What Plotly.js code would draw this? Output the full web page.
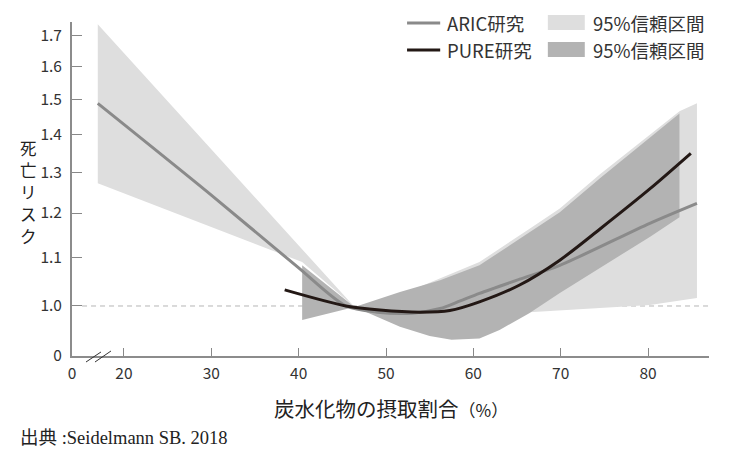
<!DOCTYPE html>
<html>
<head>
<meta charset="utf-8">
<script src="https://cdn.plot.ly/plotly-3.0.1.min.js"></script>
<style>
  html, body { margin: 0; padding: 0; background: #fff; }
  #plot { width: 744px; height: 459px; }
</style>
</head>
<body>
<div id="plot"></div>
<script>
// ARIC study (gray line) and its 95% CI
const aricX = [17.0, 30.0, 39.9, 45.4, 49.0, 53.0, 56.2, 58.5, 60.7, 65.3, 69.9, 80.2, 85.6];
const aricY = [1.488, 1.243, 1.079, 1.0, 0.988, 0.986, 0.995, 1.010, 1.025, 1.054, 1.083, 1.176, 1.223];

const aricUpX = [17.0, 46.4, 51.6, 60.7, 66.4, 69.9, 74.5, 79.0, 83.6, 85.6];
const aricUpY = [1.738, 0.998, 1.022, 1.090, 1.163, 1.211, 1.295, 1.376, 1.465, 1.488];
const aricLoX = [17.0, 40.4, 46.4, 57.3, 66.4, 80.2, 85.6];
const aricLoY = [1.272, 1.090, 0.998, 0.984, 0.988, 1.002, 1.016];

// PURE study (black line) and its 95% CI
const pureX = [38.4, 45.4, 49.3, 53.9, 57.3, 60.7, 65.3, 69.9, 74.5, 80.2, 84.9];
const pureY = [1.032, 1.0, 0.992, 0.988, 0.991, 1.008, 1.042, 1.094, 1.163, 1.258, 1.349];

const pureUpX = [40.4, 46.4, 51.6, 56.2, 60.7, 66.4, 69.9, 74.5, 79.0, 83.6];
const pureUpY = [1.083, 0.998, 1.028, 1.052, 1.083, 1.156, 1.202, 1.285, 1.368, 1.459];
const pureLoX = [40.4, 46.4, 51.6, 55.0, 57.5, 60.7, 63.0, 66.4, 69.9, 80.2, 83.6];
const pureLoY = [0.973, 0.998, 0.960, 0.943, 0.936, 0.938, 0.954, 0.986, 1.026, 1.145, 1.190];

// reference line at risk 1.0
const refX = [15.2, 86.98];
const refY = [1.0, 1.0];

// axes (broken axis: "0" labels sit at the axis ends)
const xTickVals = [14.06, 20, 30, 40, 50, 60, 70, 80];
const xTickText = ['0', '20', '30', '40', '50', '60', '70', '80'];
const yTickVals = [0.9068, 1.0, 1.1, 1.2, 1.3, 1.4, 1.5, 1.6, 1.7];
const yTickText = ['0', '1.0', '1.1', '1.2', '1.3', '1.4', '1.5', '1.6', '1.7'];

// vertical y title, one character per row
const yTitleChars = ['死', '亡', 'リ', 'ス', 'ク'];

const band = (ux, uy, lx, ly) => ({
  x: ux.concat(lx.slice().reverse()),
  y: uy.concat(ly.slice().reverse())
});

const aricBand = band(aricUpX, aricUpY, aricLoX, aricLoY);
const pureBand = band(pureUpX, pureUpY, pureLoX, pureLoY);

const data = [
  {x: refX, y: refY, mode: 'lines', line: {color: '#b5b5b5', width: 1, dash: '5px,4px'}, hoverinfo: 'skip'},
  {x: aricBand.x, y: aricBand.y, mode: 'lines', fill: 'toself', fillcolor: '#dedede',
   line: {width: 0, color: '#dedede'}, name: '95%信頼区間'},
  {x: pureBand.x, y: pureBand.y, mode: 'lines', fill: 'toself', fillcolor: '#b3b3b3',
   line: {width: 0, color: '#b3b3b3'}, name: '95%信頼区間'},
  {x: aricX, y: aricY, mode: 'lines', line: {color: '#8a8a8a', width: 3, shape: 'spline', smoothing: 0.8}, name: 'ARIC研究'},
  {x: pureX, y: pureY, mode: 'lines', line: {color: '#231815', width: 3, shape: 'spline', smoothing: 0.8}, name: 'PURE研究'}
];

const jp = '"Noto Sans CJK JP", "Noto Sans", sans-serif';
const legendFont = {family: jp, size: 18.5, color: '#333'};

const annotations = [
  {text: 'ARIC研究', xref: 'paper', yref: 'paper', x: 0.5856, y: 0.997, xanchor: 'left', yanchor: 'middle', showarrow: false, font: legendFont},
  {text: 'PURE研究', xref: 'paper', yref: 'paper', x: 0.5856, y: 0.916, xanchor: 'left', yanchor: 'middle', showarrow: false, font: legendFont},
  {text: '95%信頼区間', xref: 'paper', yref: 'paper', x: 0.8148, y: 0.997, xanchor: 'left', yanchor: 'middle', showarrow: false, font: legendFont},
  {text: '95%信頼区間', xref: 'paper', yref: 'paper', x: 0.8148, y: 0.916, xanchor: 'left', yanchor: 'middle', showarrow: false, font: legendFont},
  {text: '炭水化物の摂取割合<span style="font-size:17px">（%）</span>', xref: 'paper', yref: 'paper', x: 0.5, y: -0.156,
   xanchor: 'center', yanchor: 'middle', showarrow: false, font: {family: jp, size: 20.5, color: '#222'}},
  {text: '出典 :Seidelmann SB. 2018', xref: 'paper', yref: 'paper', x: -0.085, y: -0.2455, xanchor: 'left', yanchor: 'middle',
   showarrow: false, font: {family: '"Liberation Serif", "Noto Sans CJK JP", serif', size: 18.5, color: '#222'}}
];

yTitleChars.forEach((ch, i) => {
  annotations.push({text: ch, xref: 'paper', yref: 'paper', x: -0.069, y: 0.624 - i * 0.066,
    xanchor: 'center', yanchor: 'middle', showarrow: false, font: {family: jp, size: 16.5, color: '#222'}});
});

const layout = {
  width: 744,
  height: 459,
  margin: {l: 72, r: 35, t: 22, b: 103},
  paper_bgcolor: '#fff',
  plot_bgcolor: '#fff',
  showlegend: false,
  font: {family: jp, size: 15.5, color: '#333'},
  xaxis: {
    range: [14.05, 86.98],
    tickvals: xTickVals,
    ticktext: xTickText,
    ticks: 'inside',
    ticklen: 8,
    tickcolor: '#888',
    showline: true,
    linecolor: '#8c8c8c',
    linewidth: 1.5,
    showgrid: false,
    zeroline: false,
    ticklabelstandoff: 3,
    tickfont: {family: jp, size: 15.5, color: '#333'}
  },
  yaxis: {
    type: 'log',
    range: [-0.0426, 0.2419],
    tickvals: yTickVals,
    ticktext: yTickText,
    ticks: 'inside',
    ticklen: 10,
    tickcolor: '#888',
    showline: true,
    linecolor: '#8c8c8c',
    linewidth: 2,
    showgrid: false,
    zeroline: false,
    ticklabelstandoff: 5,
    tickfont: {family: jp, size: 15.5, color: '#333'}
  },
  shapes: [
    // axis break marks
    {type: 'line', xref: 'paper', yref: 'paper', x0: 0.022, y0: -0.018, x1: 0.0455, y1: 0.012, line: {color: '#333', width: 1}},
    {type: 'line', xref: 'paper', yref: 'paper', x0: 0.0361, y0: -0.018, x1: 0.0612, y1: 0.015, line: {color: '#333', width: 1}},
    // legend swatches
    {type: 'line', xref: 'paper', yref: 'paper', x0: 0.526, x1: 0.578, y0: 0.997, y1: 0.997, line: {color: '#8a8a8a', width: 3}},
    {type: 'line', xref: 'paper', yref: 'paper', x0: 0.526, x1: 0.578, y0: 0.916, y1: 0.916, line: {color: '#231815', width: 3}},
    {type: 'rect', xref: 'paper', yref: 'paper', x0: 0.747, x1: 0.805, y0: 0.976, y1: 1.021, fillcolor: '#dedede', line: {width: 0}},
    {type: 'rect', xref: 'paper', yref: 'paper', x0: 0.747, x1: 0.805, y0: 0.895, y1: 0.940, fillcolor: '#b3b3b3', line: {width: 0}}
  ],
  annotations: annotations
};

Plotly.newPlot('plot', data, layout, {displayModeBar: false, staticPlot: true});
</script>
</body>
</html>
